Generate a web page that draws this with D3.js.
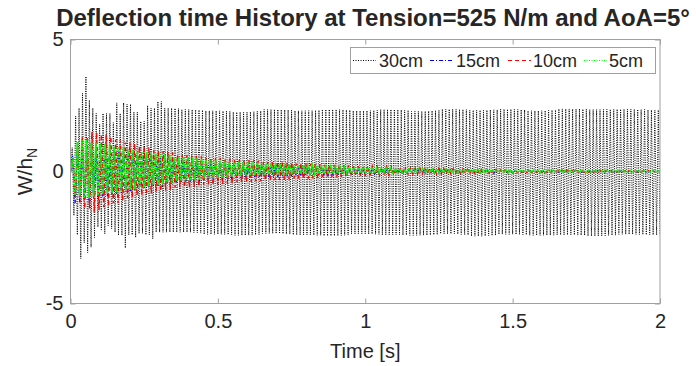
<!DOCTYPE html>
<html>
<head>
<meta charset="utf-8">
<script src="https://cdn.jsdelivr.net/npm/d3@7"></script>
<style>
  body { margin: 0; background: #fff; }
  text { font-family: "Liberation Sans", Arial, Helvetica, sans-serif; fill: #262626; }
</style>
</head>
<body>
<svg id="chart" width="696" height="366"></svg>
<script>
// ---- chart text ----
const titleText = "Deflection time History at Tension=525 N/m and AoA=5°";
const xLabel = "Time [s]";
const xTicks = [0, 0.5, 1, 1.5, 2];
const yTicks = [-5, 0, 5];

// ---- series ----
const seriesNames = ["30cm", "15cm", "10cm", "5cm"];
const seriesColors = ["#000000", "#0000ff", "#ff0000", "#00ff00"];
const seriesDash = ["1,1.3", "4,2,1,2", "4,3", "2,1"];
const seriesWidth = [1, 1.3, 1.4, 1.8];
// dominant oscillation frequency of each membrane response [Hz]
const oscHz = [86, 64, 62, 64];

// 30cm: upper / lower peak envelope of W/h_N over time [s]
const t30 = [0, 0.007, 0.014, 0.025, 0.036, 0.047, 0.057, 0.07, 0.08, 0.09,
             0.102, 0.115, 0.128, 0.14, 0.155, 0.167, 0.182, 0.2, 0.22, 0.24,
             0.26, 0.28, 0.3, 0.32, 0.35, 0.4, 0.5, 0.6, 0.7, 0.8,
             0.9, 1.0, 1.1, 1.2, 1.3, 1.4, 1.5, 1.6, 1.7, 1.8, 1.9, 2.0];
const up30 = [0.3, 0.9, 2.1, 2.4, 2.97, 2.5, 3.6, 2.7, 2.4, 2.2,
              1.8, 2.2, 2.2, 1.85, 2.6, 2.2, 2.6, 2.55, 2.25, 1.9,
              2.5, 2.4, 2.65, 2.4, 2.4, 2.35, 2.3, 2.25, 2.35, 2.3,
              2.35, 2.3, 2.35, 2.28, 2.36, 2.32, 2.36, 2.3, 2.37, 2.35, 2.36, 2.33];
const lo30 = [-0.3, -1.54, -1.67, -2.4, -3.3, -2.7, -3.07, -2.87, -2.5, -2.1,
              -2.2, -2.36, -2.05, -2.17, -2.3, -2.42, -2.9, -2.4, -2.5, -2.35,
              -2.4, -2.55, -2.3, -2.3, -2.3, -2.3, -2.38, -2.42, -2.35, -2.4,
              -2.44, -2.36, -2.4, -2.42, -2.36, -2.45, -2.38, -2.42, -2.4, -2.44, -2.38, -2.4];

// 15cm / 10cm / 5cm: decaying peak envelopes [s]
const tDecay = [0, 0.02, 0.05, 0.08, 0.12, 0.16, 0.2, 0.25, 0.3, 0.4,
                0.5, 0.6, 0.7, 0.8, 0.9, 1.0, 1.2, 1.4, 1.6, 2.0];
const up15 = [0.6, 0.9, 1.0, 0.95, 0.9, 0.8, 0.7, 0.6, 0.55, 0.42,
              0.33, 0.27, 0.22, 0.18, 0.14, 0.11, 0.07, 0.05, 0.03, 0.02];
const lo15 = [-0.9, -1.2, -1.1, -1.0, -0.95, -0.85, -0.75, -0.62, -0.55, -0.42,
              -0.33, -0.25, -0.2, -0.16, -0.12, -0.1, -0.06, -0.04, -0.03, -0.02];
const up10 = [0.4, 0.9, 1.3, 1.5, 1.4, 1.2, 1.1, 0.95, 0.8, 0.62,
              0.52, 0.44, 0.36, 0.3, 0.25, 0.2, 0.13, 0.08, 0.05, 0.03];
const lo10 = [-0.4, -1.0, -1.4, -1.55, -1.35, -1.2, -1.0, -0.9, -0.75, -0.6,
              -0.5, -0.4, -0.33, -0.27, -0.21, -0.16, -0.1, -0.07, -0.04, -0.02];
const up5 = [0.5, 1.1, 1.2, 1.1, 1.05, 0.95, 0.85, 0.75, 0.68, 0.55,
             0.42, 0.35, 0.3, 0.24, 0.19, 0.15, 0.1, 0.06, 0.04, 0.02];
const lo5 = [-0.5, -0.9, -1.0, -0.95, -0.85, -0.8, -0.7, -0.6, -0.5, -0.35,
             -0.25, -0.15, -0.12, -0.1, -0.08, -0.06, -0.04, -0.03, -0.02, -0.01];

const envelopes = [
  { t: t30, up: up30, lo: lo30 },
  { t: tDecay, up: up15, lo: lo15 },
  { t: tDecay, up: up10, lo: lo10 },
  { t: tDecay, up: up5, lo: lo5 }
];

// ---- layout ----
const plot = { left: 70.5, right: 660, top: 39.5, bottom: 303.5 };
const axisGrey = "#a0a0a0";

const svg = d3.select("#chart");
const x = d3.scaleLinear().domain([0, 2]).range([plot.left, plot.right]);
const y = d3.scaleLinear().domain([-5, 5]).range([plot.bottom, plot.top]);

svg.append("defs").append("clipPath").attr("id", "plotClip")
  .append("rect")
  .attr("x", plot.left).attr("y", plot.top)
  .attr("width", plot.right - plot.left).attr("height", plot.bottom - plot.top);

// Turn a peak envelope into the swing-by-swing response trace;
// each swing takes the envelope reading closest to it in time
function responseTrace(env, hz) {
  const nearest = (vals, t) => {
    const i = d3.minIndex(env.t, s => Math.abs(s - t));
    const j = Math.min(i + 1, env.t.length - 1);
    // steady stretch between readings: blend the two neighbours
    const a = env.t[i], b = env.t[j];
    if (b - a > 0.03 && t > a) {
      return d3.scaleLinear().domain([a, b]).range([vals[i], vals[j]])(t);
    }
    return vals[i];
  };
  const half = 1 / (2 * hz);
  const pts = [[0, 0]];
  for (let k = 1; k * half <= 2 + 1e-9; k++) {
    const t = k * half;
    pts.push([t, k % 2 === 1 ? nearest(env.up, t) : nearest(env.lo, t)]);
  }
  return pts;
}

const line = d3.line().x(d => x(d[0])).y(d => y(d[1]));
const traces = svg.append("g").attr("clip-path", "url(#plotClip)");
envelopes.forEach((env, i) => {
  traces.append("path")
    .attr("d", line(responseTrace(env, oscHz[i])))
    .attr("fill", "none")
    .attr("stroke", seriesColors[i])
    .attr("stroke-width", seriesWidth[i])
    .attr("stroke-dasharray", seriesDash[i]);
});

// ---- axes box with inward ticks ----
const tickLen = 5;
svg.append("rect")
  .attr("x", plot.left).attr("y", plot.top)
  .attr("width", plot.right - plot.left).attr("height", plot.bottom - plot.top)
  .attr("fill", "none").attr("stroke", axisGrey).attr("stroke-width", 1);

const xAxis = svg.append("g").attr("transform", `translate(0,${plot.bottom})`)
  .call(d3.axisBottom(x).tickValues(xTicks).tickSize(-tickLen).tickPadding(10)
        .tickFormat(d => String(d)));
const xAxisTop = svg.append("g").attr("transform", `translate(0,${plot.top})`)
  .call(d3.axisTop(x).tickValues(xTicks).tickSize(-tickLen).tickFormat(""));
const yAxis = svg.append("g").attr("transform", `translate(${plot.left},0)`)
  .call(d3.axisLeft(y).tickValues(yTicks).tickSize(-tickLen).tickPadding(7)
        .tickFormat(d => String(d)));
const yAxisRight = svg.append("g").attr("transform", `translate(${plot.right},0)`)
  .call(d3.axisRight(y).tickValues(yTicks).tickSize(-tickLen).tickFormat(""));

[xAxis, xAxisTop, yAxis, yAxisRight].forEach(g => {
  g.select(".domain").remove();
  g.selectAll(".tick line").attr("stroke", axisGrey);
  g.selectAll(".tick text").attr("font-size", 20).attr("fill", "#262626")
    .style("font-family", '"Liberation Sans", Arial, sans-serif');
});

// ---- labels ----
svg.append("text")
  .attr("x", 373).attr("y", 26)
  .attr("text-anchor", "middle")
  .attr("font-size", 24).attr("font-weight", "bold")
  .attr("fill", "#000")
  .text(titleText);

svg.append("text")
  .attr("x", (plot.left + plot.right) / 2).attr("y", 358)
  .attr("text-anchor", "middle").attr("font-size", 20)
  .text(xLabel);

const yl = svg.append("text")
  .attr("transform", `translate(32,${(plot.top + plot.bottom) / 2}) rotate(-90)`)
  .attr("text-anchor", "middle").attr("font-size", 21);
yl.append("tspan").text("W/h");
yl.append("tspan").attr("font-size", 14).attr("dy", 5).text("N");

// ---- legend ----
const legend = svg.append("g");
legend.append("rect")
  .attr("x", 350.5).attr("y", 47.5).attr("width", 305).attr("height", 26)
  .attr("fill", "#fff").attr("stroke", axisGrey).attr("stroke-width", 1);
const sampleX = [353, 430, 508, 584];
const labelX = [379, 456, 533, 609];
const legendDash = ["1,1.5", "4,2,1,2", "4,3", "1,1.5"];
seriesNames.forEach((name, i) => {
  legend.append("line")
    .attr("x1", sampleX[i]).attr("x2", sampleX[i] + 23)
    .attr("y1", 60.5).attr("y2", 60.5)
    .attr("stroke", seriesColors[i]).attr("stroke-width", 1)
    .attr("stroke-dasharray", legendDash[i]);
  legend.append("text")
    .attr("x", labelX[i]).attr("y", 67)
    .attr("font-size", 18)
    .text(name);
});
</script>
</body>
</html>
